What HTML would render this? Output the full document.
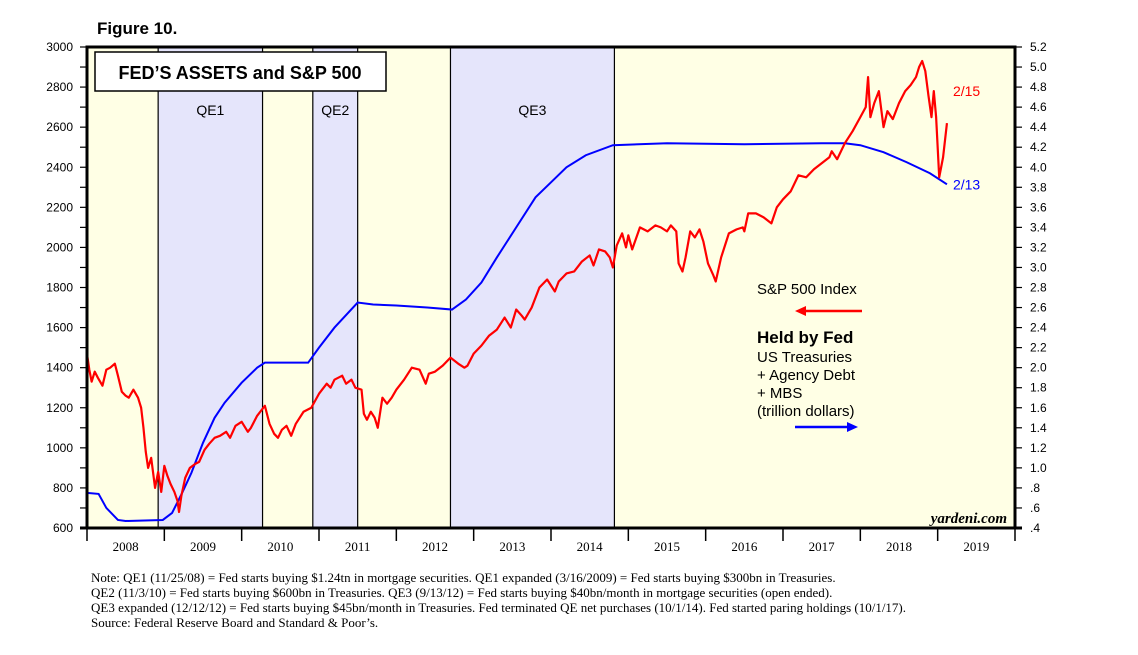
<!DOCTYPE html>
<html><head><meta charset="utf-8"><style>
body{margin:0;background:#fff;width:1138px;height:650px;overflow:hidden;font-family:"Liberation Sans",sans-serif}
</style></head><body>
<svg width="1138" height="650" viewBox="0 0 1138 650" id="svg">
<text x="97" y="34" font-size="17" font-weight="bold">Figure 10.</text>
<g id="bands"></g>
<g id="grid"></g>
<rect x="95" y="52" width="291" height="39" fill="#fff" stroke="#000" stroke-width="1.5"/>
<text x="240" y="79" font-size="18" font-weight="bold" text-anchor="middle">FED’S ASSETS and S&amp;P 500</text>
<g id="series"></g>
<rect x="87" y="47" width="928" height="481" fill="none" stroke="#000" stroke-width="3"/>
<g id="axes"></g>
<text x="1007" y="523" font-size="15" font-style="italic" font-weight="bold" font-family="Liberation Serif,serif" text-anchor="end">yardeni.com</text>
<text x="757" y="294" font-size="15">S&amp;P 500 Index</text>
<line x1="862" y1="311" x2="802" y2="311" stroke="#f00" stroke-width="2.5"/>
<polygon points="795,311 806,306 806,316" fill="#f00"/>
<text x="757" y="343" font-size="17" font-weight="bold">Held by Fed</text>
<text x="757" y="362" font-size="15">US Treasuries</text>
<text x="757" y="380" font-size="15">+ Agency Debt</text>
<text x="757" y="398" font-size="15">+ MBS</text>
<text x="757" y="416" font-size="15">(trillion dollars)</text>
<line x1="795" y1="427" x2="851" y2="427" stroke="#00f" stroke-width="2.5"/>
<polygon points="858,427 847,422 847,432" fill="#00f"/>
<g font-family="Liberation Serif,serif" font-size="13">
<text x="91" y="582">Note: QE1 (11/25/08) = Fed starts buying $1.24tn in mortgage securities. QE1 expanded (3/16/2009) = Fed starts buying $300bn in Treasuries.</text>
<text x="91" y="597">QE2 (11/3/10) = Fed starts buying $600bn in Treasuries. QE3 (9/13/12) = Fed starts buying $40bn/month in mortgage securities (open ended).</text>
<text x="91" y="612">QE3 expanded (12/12/12) = Fed starts buying $45bn/month in Treasuries. Fed terminated QE net purchases (10/1/14). Fed started paring holdings (10/1/17).</text>
<text x="91" y="627">Source: Federal Reserve Board and Standard &amp; Poor’s.</text>
</g>
</svg>
<script>
const bandStarts=[2008.92,2010.92,2012.70];
const bandEnds=[2010.27,2011.50,2014.82];
const bandLabels=["QE1","QE2","QE3"];
const yearLabels=["2008","2009","2010","2011","2012","2013","2014","2015","2016","2017","2018","2019"];
const leftTicks=[600,800,1000,1200,1400,1600,1800,2000,2200,2400,2600,2800,3000];
const rightTicks=[".4",".6",".8","1.0","1.2","1.4","1.6","1.8","2.0","2.2","2.4","2.6","2.8","3.0","3.2","3.4","3.6","3.8","4.0","4.2","4.4","4.6","4.8","5.0","5.2"];
const spDates=[2008.0,2008.03,2008.06,2008.1,2008.14,2008.2,2008.25,2008.3,2008.36,2008.4,2008.45,2008.5,2008.54,2008.6,2008.66,2008.7,2008.73,2008.76,2008.79,2008.83,2008.86,2008.88,2008.92,2008.96,2009.0,2009.04,2009.08,2009.13,2009.17,2009.19,2009.22,2009.27,2009.33,2009.4,2009.45,2009.52,2009.58,2009.65,2009.72,2009.8,2009.85,2009.92,2010.0,2010.08,2010.12,2010.2,2010.3,2010.36,2010.42,2010.47,2010.52,2010.58,2010.64,2010.7,2010.8,2010.9,2011.0,2011.1,2011.15,2011.2,2011.3,2011.35,2011.42,2011.47,2011.55,2011.58,2011.62,2011.67,2011.72,2011.76,2011.82,2011.88,2011.94,2012.0,2012.1,2012.2,2012.3,2012.38,2012.42,2012.5,2012.6,2012.7,2012.8,2012.88,2012.92,2013.0,2013.1,2013.2,2013.3,2013.4,2013.48,2013.55,2013.62,2013.66,2013.75,2013.85,2013.95,2014.05,2014.1,2014.2,2014.3,2014.4,2014.5,2014.55,2014.62,2014.7,2014.76,2014.8,2014.85,2014.92,2014.97,2015.0,2015.05,2015.15,2015.25,2015.35,2015.42,2015.5,2015.55,2015.62,2015.65,2015.7,2015.74,2015.8,2015.86,2015.92,2015.97,2016.03,2016.1,2016.13,2016.2,2016.3,2016.4,2016.48,2016.5,2016.55,2016.65,2016.75,2016.85,2016.92,2017.0,2017.1,2017.2,2017.3,2017.4,2017.5,2017.6,2017.63,2017.7,2017.8,2017.9,2018.0,2018.07,2018.1,2018.13,2018.18,2018.24,2018.3,2018.35,2018.42,2018.5,2018.58,2018.65,2018.72,2018.76,2018.8,2018.84,2018.88,2018.92,2018.95,2018.98,2019.02,2019.07,2019.12];
const spValues=[1468,1390,1330,1380,1350,1310,1390,1400,1420,1360,1280,1260,1250,1290,1250,1200,1100,980,900,950,860,800,880,780,910,860,820,780,735,680,760,850,900,920,930,990,1020,1050,1060,1080,1050,1110,1130,1080,1100,1160,1210,1120,1070,1050,1090,1110,1060,1120,1180,1200,1270,1320,1300,1340,1360,1320,1340,1300,1290,1170,1140,1180,1150,1100,1250,1220,1250,1290,1340,1400,1390,1320,1370,1380,1410,1450,1420,1400,1410,1470,1510,1560,1590,1650,1600,1690,1660,1640,1700,1800,1840,1780,1830,1870,1880,1930,1960,1910,1990,1980,1950,1900,2010,2070,2000,2060,1990,2100,2080,2110,2100,2080,2110,2080,1920,1880,1950,2080,2050,2090,2030,1920,1860,1830,1950,2070,2090,2100,2080,2170,2170,2150,2120,2200,2240,2280,2360,2350,2390,2420,2450,2480,2440,2520,2580,2650,2700,2850,2650,2720,2780,2600,2680,2640,2720,2780,2810,2850,2900,2930,2880,2760,2650,2780,2650,2350,2450,2620,2700,2775];
const fedDates=[2008.0,2008.15,2008.25,2008.4,2008.5,2008.98,2009.1,2009.23,2009.35,2009.5,2009.65,2009.78,2010.0,2010.2,2010.3,2010.86,2011.0,2011.2,2011.5,2011.7,2012.0,2012.4,2012.72,2012.9,2013.1,2013.3,2013.55,2013.8,2014.0,2014.2,2014.45,2014.8,2015.5,2016.5,2017.5,2017.8,2018.0,2018.3,2018.6,2018.9,2019.12];
const fedValues=[0.75,0.74,0.6,0.48,0.47,0.48,0.55,0.75,0.95,1.25,1.5,1.65,1.85,2.0,2.05,2.05,2.2,2.4,2.65,2.63,2.62,2.6,2.58,2.68,2.85,3.1,3.4,3.7,3.85,4.0,4.12,4.22,4.24,4.23,4.24,4.24,4.22,4.15,4.05,3.94,3.83];
const X0=87,X1=1015,T0=2008,T1=2020,YT=47,YB=528;
const xs=t=>X0+(t-T0)/(T1-T0)*(X1-X0);
const yl=v=>YB-(v-600)/2400*(YB-YT);
const yr=v=>YB-(v-0.4)/4.8*(YB-YT);
const NS="http://www.w3.org/2000/svg";
function mk(tag,attrs,parent){const e=document.createElementNS(NS,tag);for(const k in attrs)e.setAttribute(k,attrs[k]);parent.appendChild(e);return e;}
const bands=document.getElementById('bands'),axes=document.getElementById('axes'),series=document.getElementById('series');
const bg=mk('rect',{x:X0,y:YT,width:X1-X0,height:YB-YT,fill:'#ffffe5'},bands);


for(let i=0;i<bandStarts.length;i++){
 const r=mk('rect',{x:xs(bandStarts[i]),y:YT,width:xs(bandEnds[i])-xs(bandStarts[i]),height:YB-YT,fill:'#e5e5fb',stroke:'#000','stroke-width':1.2},bands);
 
 
 const t=mk('text',{x:(xs(bandStarts[i])+xs(bandEnds[i]))/2,y:115,'font-size':14,'text-anchor':'middle'},bands);
 t.textContent=bandLabels[i];
 
 
}
const bl=mk('line',{x1:80,y1:YB,x2:1022,y2:YB,stroke:'#000','stroke-width':3},axes);


for(let i=0;i<=yearLabels.length;i++){
 const x=xs(T0+i);
 mk('line',{x1:x,y1:YB,x2:x,y2:YB+13,stroke:'#000','stroke-width':1.5},axes);
 if(i<yearLabels.length){const t=mk('text',{x:x+(X1-X0)/24,y:551,'font-size':13,'text-anchor':'middle','font-family':'Liberation Serif,serif'},axes);
 t.textContent=yearLabels[i];
 
 }
}
for(let v=600;v<=3000;v+=100){mk('line',{x1:80,y1:yl(v),x2:X0,y2:yl(v),stroke:'#000','stroke-width':1.2},axes);}
leftTicks.forEach(v=>{const t=mk('text',{x:73,y:yl(v)+4,'font-size':12,'text-anchor':'end'},axes);
 t.textContent=v;
 
 });
rightTicks.forEach(s=>{const v=parseFloat(s);const y=yr(v);
 mk('line',{x1:X1,y1:y,x2:1022,y2:y,stroke:'#000','stroke-width':1.2},axes);
 const t=mk('text',{x:1030,y:y+4,'font-size':12},axes);
 t.textContent=s;
 
 });
const fp=mk('polyline',{points:fedDates.map((d,i)=>xs(d)+','+yr(fedValues[i])).join(' '),fill:'none',stroke:'#00f','stroke-width':2},series);


const sp=mk('polyline',{points:spDates.map((d,i)=>xs(d)+','+yl(spValues[i])).join(' '),fill:'none',stroke:'#f00','stroke-width':2.2,'stroke-linejoin':'round'},series);


const la=mk('text',{x:xs(spDates[spDates.length-1])+6,y:yl(spValues[spValues.length-1])+4,'font-size':14,fill:'#f00'},series);
la.textContent='2/15';


const lb=mk('text',{x:xs(fedDates[fedDates.length-1])+6,y:yr(fedValues[fedValues.length-1])+5,'font-size':14,fill:'#00f'},series);
lb.textContent='2/13';


</script>
</body></html>
